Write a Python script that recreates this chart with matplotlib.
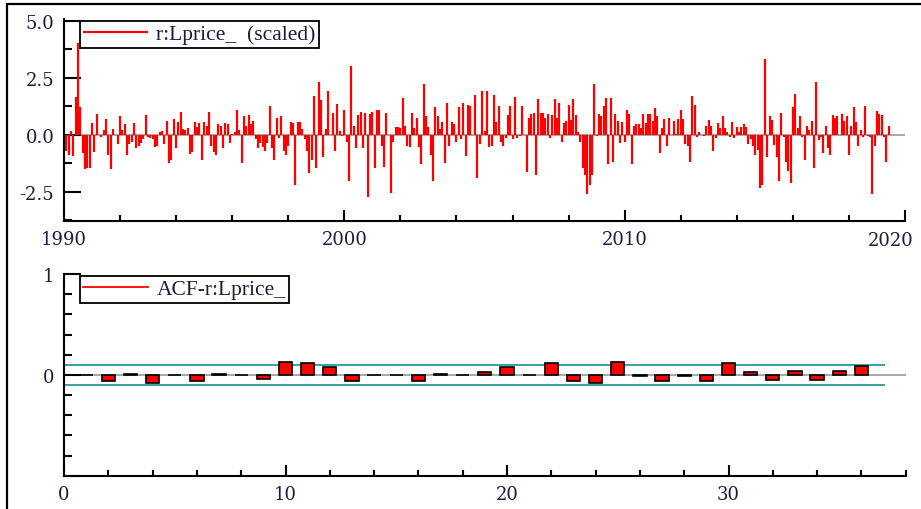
import matplotlib.pyplot as plt
import numpy as np
from matplotlib.ticker import MultipleLocator
from matplotlib.patches import Rectangle

plt.rcParams['font.family'] = ['Liberation Serif', 'DejaVu Serif']

# scaled residuals r:Lprice_, monthly from 1990(1) to 2019(6)
resid_1990s = [
    -0.77, -0.7, -0.9, 0.15, -0.95, 1.65, 4.0, 1.2, -0.8, -1.5, -1.45, -1.45,
    0.5, -0.75, 0.9, 0.0, -0.1, 0.2, 0.7, -0.9, -1.5, 0.25, 0.0, -0.4,
    0.8, 0.2, 0.45, -0.9, -0.4, -0.3, 0.5, -0.6, -0.5, -0.35, -0.2, 0.85,
    -0.1, -0.15, -0.2, -0.55, -0.5, 0.1, 0.15, -0.4, 0.6, -1.25, -1.1, 0.7,
    -0.6, 0.55, 1.0, 0.25, 0.2, 0.3, -0.85, -0.75, 0.55, 0.35, 0.5, -1.1,
    0.55, 0.4, 1.0, -0.5, -0.75, -0.9, 0.45, 0.4, -0.6, 0.5, 0.45, -0.35,
    0.05, 0.1, 1.1, 0.2, -1.25, 0.8, 0.4, 0.85, 0.45, 0.6, -0.2, -0.6,
    -0.35, -0.55, -0.7, -0.35, 1.25, -0.6, -1.1, 0.75, -0.15, 0.8, -0.7, -0.9,
    -0.5, 0.55, 0.5, -2.2, 0.55, 0.55,
]
resid_2000s = [
    0.25, -0.2, -0.7, -1.7, -1.1, 1.7, -1.45, 2.3, 1.5, -1.0, 0.25, 1.9,
    0.0, 0.95, -0.7, 1.35, 0.15, -0.05, 1.1, -0.3, -2.05, 3.0, 0.4, -0.6,
    0.85, 1.0, -0.6, 0.95, -2.75, 0.9, 1.0, -1.45, 1.1, 1.1, -0.5, -1.4,
    0.95, 0.0, -2.55, -0.3, 0.35, 0.35, 0.3, 1.6, 0.4, -0.5, -0.55, 0.95,
    0.3, 0.75, -0.55, -1.3, 2.2, 0.8, 0.35, -0.9, -2.05, 1.2, 0.8, 0.25,
    0.55, -1.25, 1.4, -0.5, 0.55, 0.45, -0.3, 1.2, -0.2, 1.4, -0.95, 1.3,
    1.25, 0.0, 1.75, -1.9, -0.4, 1.9, 0.15, 1.9, -0.55, -0.5, 1.75, 0.55,
    1.25, -0.3, -0.5, -0.15, 0.85, 1.25, -0.2, 1.65, -0.15, -0.05, 1.25, 0.0,
    -1.65, 0.75, 0.9, 0.95, -1.75, 1.55, 0.95, 0.95, 0.75, 0.9, -0.15, 0.85,
    1.55, 0.75, 1.4, -0.3, 0.5, 0.6, 1.3, 0.65, 1.55, 0.85, 0.1, -0.3,
    -1.45, -1.75, -2.6, -2.2, -1.75, 2.2, -0.05, 0.9, 0.8, 1.25, 1.6, -1.3,
    1.6, -1.2, 0.9, 0.6,
]
resid_2010s = [
    -0.35, 0.55, -0.3, 1.1, 0.9, -1.3, 0.4, 0.45, 0.45, 0.3, 0.9, 0.5,
    0.9, 0.9, 0.6, 1.15, 0.8, -0.8, 0.3, 0.7, -0.5, 0.75, 0.0, 0.6,
    0.05, 0.7, 1.1, 0.7, -0.4, -0.5, -1.2, 1.7, 1.3, -0.1, 0.1, 0.0,
    -0.05, 0.4, 0.65, 0.4, -0.7, -0.15, 0.5, 0.3, 0.8, 0.3, 0.1, -0.1,
    0.55, -0.15, 0.35, 0.1, 0.35, 0.45, 0.35, -0.4, -0.2, -0.5, -0.9, -0.65,
    -2.35, -2.2, 3.3, -1.0, 0.8, 0.65, -0.45, -1.0, -2.05, 0.95, -0.1, -1.2,
    -1.6, -2.1, 1.2, 1.8, 0.3, 0.8, -0.1, -1.1, 0.4, 0.2, 0.6, -1.45,
    2.3, -0.25, -0.1, -0.8, 0.4, -0.6, -0.9, 0.85, 0.75, 0.8, 0.0, 0.9,
    0.6, 0.8, -0.9, 0.4, 1.2, 0.55, -0.5, 0.2, -0.1, 1.25, -0.05, -0.1,
    -2.6, -0.5, 1.05, 0.9, 0.85, -0.1, -1.2, 0.4,
]
resid = resid_1990s + resid_2000s + resid_2010s
start_year = 1990
year_ticks = [1990, 2000, 2010]
year_last = 2020

# residual autocorrelations, lags 1..36
acf_lags = list(range(1, 37))
acf_vals = [
    0.0, -0.063, 0.013, -0.076, 0.0, -0.06, 0.01, 0.0, -0.045, 0.13,
    0.12, 0.073, -0.063, 0.0, 0.0, -0.063, 0.01, 0.0, 0.03, 0.073,
    0.0, 0.12, -0.063, -0.076, 0.13, -0.01, -0.063, -0.01, -0.063, 0.12,
    0.027, -0.047, 0.043, -0.047, 0.043, 0.09,
]
acf_band = 0.1

dates = start_year + np.arange(len(resid)) / 12

W, H = 921, 510
fig = plt.figure(figsize=(W / 100, H / 100), dpi=100)
txt_col = '#1a1d3c'
tick_font = dict(family=['DejaVu Serif'], size=13, color=txt_col)


def px_axes(l, t, r, b):
    return fig.add_axes([l / W, 1 - b / H, (r - l) / W, (b - t) / H])


def style(ax):
    for s in ['top', 'right']:
        ax.spines[s].set_visible(False)
    for s in ['left', 'bottom']:
        ax.spines[s].set_linewidth(1.5)
    ax.tick_params(axis='both', which='both', direction='in', width=1.5,
                   labelcolor=txt_col)
    ax.tick_params(axis='y', which='major', length=12, pad=7)
    ax.tick_params(axis='y', which='minor', length=6)
    ax.tick_params(axis='x', which='major', length=8, pad=7)
    ax.tick_params(axis='x', which='minor', length=4)
    for lbl in ax.get_xticklabels() + ax.get_yticklabels():
        lbl.set_fontfamily('DejaVu Serif')
        lbl.set_fontsize(13)


def add_legend(ax):
    leg = ax.legend(loc='upper left', bbox_to_anchor=(0.019, 0.99),
                    borderaxespad=0, fancybox=False, edgecolor='black',
                    framealpha=1, fontsize=15.5, handlelength=3.0,
                    handletextpad=0.4, borderpad=0.15)
    leg.get_frame().set_linewidth(1.3)
    for t in leg.get_texts():
        t.set_color(txt_col)


# top panel: scaled residuals
ax1 = px_axes(64, 20, 905, 221.7)
ax1.axhline(0, color='#a0a0a0', lw=1.3, zorder=1)
ax1.vlines(dates, 0, resid, color='red', lw=1.6, zorder=2,
           label='r:Lprice_  (scaled)')
ax1.set_xlim(start_year, year_last)
ax1.set_ylim(-3.77, 5.07)
ax1.set_xticks(year_ticks + [year_last])
ax1.set_xticklabels([str(y) for y in year_ticks] + [''])
ax1.xaxis.set_minor_locator(MultipleLocator(2))
ax1.set_yticks([-2.5, 0, 2.5, 5.0])
ax1.set_yticklabels(['-2.5', '0.0', '2.5', '5.0'])
ax1.yaxis.set_minor_locator(MultipleLocator(1.25))
style(ax1)
# last year label sits at the right edge of the window
ax1.annotate(str(year_last), xy=(year_last, 0), xycoords=('data', 'axes fraction'),
             xytext=(-14, -10), textcoords='offset pixels', ha='center',
             va='top', **tick_font)
add_legend(ax1)

# bottom panel: ACF
ax2 = px_axes(64, 275, 905.7, 476.7)
ax2.plot([0, 38], [0, 0], color='#a0a0a0', lw=1.3, zorder=1)
ax2.bar(acf_lags, acf_vals, width=0.6, color='red', edgecolor='black',
        linewidth=1.2, zorder=3)
ax2.plot([0, 37], [acf_band, acf_band], color='#2a9a9c', lw=1.3, zorder=2)
ax2.plot([0, 37], [-acf_band, -acf_band], color='#2a9a9c', lw=1.3, zorder=2)
ax2.plot([], [], color='red', lw=1.3, label='ACF-r:Lprice_')
ax2.set_xlim(0, 38)
ax2.set_ylim(-1, 1)
ax2.xaxis.set_major_locator(MultipleLocator(10))
ax2.xaxis.set_minor_locator(MultipleLocator(2))
ax2.set_yticks([-1, 0, 1])
ax2.set_yticklabels(['', '0', '1'])
ax2.yaxis.set_minor_locator(MultipleLocator(0.2))
style(ax2)
add_legend(ax2)

# outer frame of the graphics window
fig.patches.append(Rectangle((7 / W, -0.1), 1.2, 1.1 - 5 / H,
                             transform=fig.transFigure, fill=False,
                             edgecolor='black', lw=1.6))

fig.savefig('out.png', dpi=100)
